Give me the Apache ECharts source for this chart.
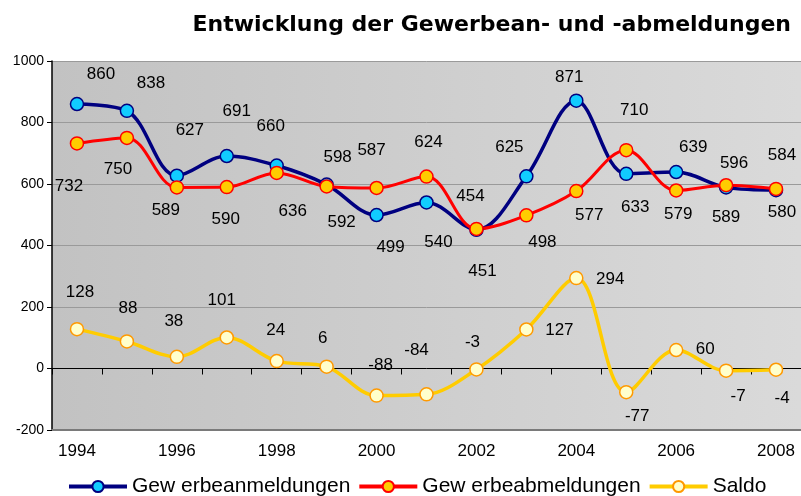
<!DOCTYPE html>
<html>
<head>
<meta charset="utf-8">
<script src="https://cdn.jsdelivr.net/npm/echarts@6/dist/echarts.min.js"></script>
<style>
  html, body { margin: 0; padding: 0; background: #fff; }
  #chart { width: 801px; height: 496px; }
</style>
</head>
<body>
<div id="chart"></div>
<script>
const years = ['1994','1995','1996','1997','1998','1999','2000','2001','2002','2003','2004','2005','2006','2007','2008'];
const anmeldungen = [860, 838, 627, 691, 660, 598, 499, 540, 451, 625, 871, 633, 639, 589, 580];
const abmeldungen = [732, 750, 589, 590, 636, 592, 587, 624, 454, 498, 577, 710, 579, 596, 584];
const saldo = [128, 88, 38, 101, 24, 6, -88, -84, -3, 127, 294, -77, 60, -7, -4];
const yTicks = { min: -200, max: 1000, step: 200 };

// label offsets (px) relative to each marker
const anmOffsets = [[24,-30],[24,-28],[13,-45],[10,-45],[-6,-39],[11,-27],[14,32],[12,40],[6,41],[-17,-29],[-7,-23],[9,33],[17,-25],[0,30],[6,22]];
const abmOffsets = [[-8,43],[-9,31],[-11,23],[-1,32],[16,38],[15,36],[-5,-38],[2,-34],[-6,-33],[16,27],[13,24],[8,-40],[2,24],[8,-22],[6,-34]];
const saldoOffsets = [[3,-37],[1,-33],[-3,-36],[-5,-37],[-1,-31],[-4,-28],[4,-30],[-10,-44],[-4,-27],[33,1],[34,1],[11,24],[29,-1],[12,26],[6,29]];

const FONT = '"Liberation Sans", Arial, sans-serif';

function withLabels(values, offsets) {
  return values.map((v, i) => ({ value: v, label: { offset: offsets[i] } }));
}

function lineSeries(name, values, offsets, lineColor, lineWidth, fill, border) {
  return {
    name: name,
    type: 'line',
    xAxisIndex: 0,
    smooth: 0.35,
    symbol: 'circle',
    symbolSize: 13,
    lineStyle: { color: lineColor, width: lineWidth },
    itemStyle: { color: fill, borderColor: border, borderWidth: 1.5 },
    label: {
      show: true,
      position: 'inside',
      fontFamily: FONT,
      fontSize: 17,
      color: '#000'
    },
    emphasis: { disabled: true },
    data: withLabels(values, offsets)
  };
}

const chart = echarts.init(document.getElementById('chart'));
chart.setOption({
  animation: false,
  title: {
    text: 'Entwicklung der Gewerbean- und -abmeldungen',
    right: 5,
    top: 9,
    textStyle: { fontFamily: '"DejaVu Sans", sans-serif', fontSize: 22, fontWeight: 'bold', color: '#000' }
  },
  legend: {
    left: 62,
    top: 471,
    itemWidth: 58,
    itemHeight: 14,
    itemGap: 7,
    lineStyle: { width: 4 },
    textStyle: { fontFamily: FONT, fontSize: 21, color: '#000' },
    data: ['Gew erbeanmeldungen', 'Gew erbeabmeldungen', 'Saldo']
  },
  grid: {
    left: 52, right: 0, top: 61, bottom: 66,
    show: true,
    borderWidth: 0,
    backgroundColor: new echarts.graphic.LinearGradient(0, 0, 1, 0, [
      { offset: 0, color: '#c2c2c2' },
      { offset: 1, color: '#dadada' }
    ])
  },
  xAxis: [
    {
      type: 'category',
      data: years,
      position: 'bottom',
      axisLine: { onZero: false, lineStyle: { color: '#7a7a7a', width: 2 } },
      axisTick: { show: false },
      axisLabel: { interval: 1, margin: 13, fontFamily: FONT, fontSize: 17, color: '#000' },
      splitLine: { show: false }
    },
    {
      type: 'category',
      data: years,
      position: 'bottom',
      axisLine: { onZero: true, lineStyle: { color: '#000', width: 1 } },
      axisTick: { show: true, interval: 0, length: 6, lineStyle: { color: '#000' } },
      axisLabel: { show: false },
      splitLine: { show: false }
    }
  ],
  yAxis: {
    type: 'value',
    min: yTicks.min,
    max: yTicks.max,
    interval: yTicks.step,
    axisLine: { show: true, lineStyle: { color: '#000', width: 1.5 } },
    axisTick: { show: true, length: 5, lineStyle: { color: '#000' } },
    axisLabel: { margin: 8, fontFamily: FONT, fontSize: 14, color: '#000', formatter: v => String(v) },
    splitLine: { lineStyle: { color: '#9a9a9a', width: 1 } }
  },
  series: [
    lineSeries('Gew erbeanmeldungen', anmeldungen, anmOffsets, '#000080', 3.5, '#11ccff', '#000080'),
    lineSeries('Gew erbeabmeldungen', abmeldungen, abmOffsets, '#ff0000', 3, '#ffcc00', '#ff0000'),
    lineSeries('Saldo', saldo, saldoOffsets, '#ffcc00', 3.5, '#ffffcc', '#ff9900')
  ]
});
</script>
</body>
</html>
